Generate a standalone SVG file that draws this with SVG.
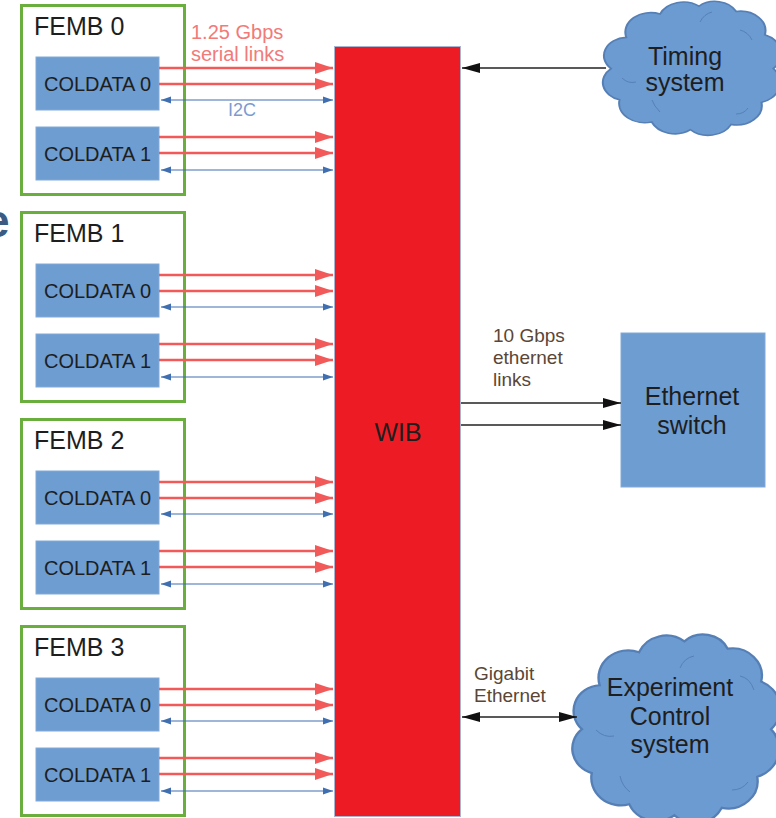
<svg xmlns="http://www.w3.org/2000/svg" width="776" height="818" viewBox="0 0 776 818">
  <style>
    .lbl { font-family: "Liberation Sans", Arial, sans-serif; fill: #1e1e1e; }
    .femb-frame { fill: #fff; stroke: #6aaf3d; stroke-width: 3; }
    .femb-title { font-size: 25px; }
    .chip { fill: #6d9dd1; stroke: #82aad8; stroke-width: 1; }
    .chip-txt { font-size: 20px; text-anchor: middle; }
    .cloud { fill: #6b9bd1; stroke: #557fb5; stroke-width: 1.2; }
    .cloud-fold { fill: none; stroke: #5680b8; stroke-width: 1; }
    .big { font-size: 25px; text-anchor: middle; }
    .serial { stroke: #f25a5a; stroke-width: 2.4; fill: none; marker-end: url(#redHead); }
    .i2c { stroke: #3f6fb0; stroke-width: 1.2; fill: none; marker-start: url(#blueHead); marker-end: url(#blueHead); }
    .eth { stroke: #222; stroke-width: 1.4; fill: none; }
  </style>
  <defs>
    <marker id="redHead" markerUnits="userSpaceOnUse" markerWidth="18" markerHeight="12" refX="18" refY="6" orient="auto">
      <path d="M0,0 L18,6 L0,12 z" fill="#f25a5a"/>
    </marker>
    <marker id="blueHead" markerUnits="userSpaceOnUse" markerWidth="10" markerHeight="8" refX="10" refY="4" orient="auto-start-reverse">
      <path d="M0,0.5 L10,4 L0,7.5 z" fill="#3f6fb0"/>
    </marker>
    <marker id="blackHead" markerUnits="userSpaceOnUse" markerWidth="18" markerHeight="12" refX="18" refY="6" orient="auto-start-reverse">
      <path d="M0,1 L18,6 L0,11 z" fill="#111"/>
    </marker>
    <!-- cloud outline in a 100x100 box -->
    <path id="cloudShape" d="M3,52 A14,14 0 0 1 12,28 A15,15 0 0 1 32,10 A15,15 0 0 1 55,4 A14,14 0 0 1 77,8 A15,15 0 0 1 94,26 A16,16 0 0 1 99,52 A16,16 0 0 1 92,78 A15,15 0 0 1 74,95 A15,15 0 0 1 50,99 A15,15 0 0 1 27,93 A15,15 0 0 1 8,76 A14,14 0 0 1 3,52 z"/>
  </defs>

  <rect width="776" height="818" fill="#fff"/>

  <!-- cropped heading glyph at the left edge -->
  <text x="-16" y="237" style="font-family: 'Liberation Sans', Arial, sans-serif; font-size: 46px; font-weight: bold; fill: #3b5b82;">e</text>

  <!-- WIB -->
  <g id="wib">
    <rect x="334.5" y="46.5" width="126" height="770" fill="#ed1c24" stroke="#a8b4d0" stroke-width="1"/>
    <text class="lbl big" x="398" y="441">WIB</text>
  </g>

  <!-- FEMB 0 -->
  <g id="femb0" transform="translate(0,4)">
    <rect class="femb-frame" x="21.5" y="1.5" width="163" height="189"/>
    <text class="lbl femb-title" x="34" y="31">FEMB 0</text>
    <g id="femb0-coldata0">
      <rect class="chip" x="36" y="53" width="123" height="53"/>
      <text class="lbl chip-txt" x="97.5" y="87">COLDATA 0</text>
    </g>
    <g id="femb0-coldata1">
      <rect class="chip" x="36" y="123" width="123" height="53"/>
      <text class="lbl chip-txt" x="97.5" y="157">COLDATA 1</text>
    </g>
  </g>

  <!-- FEMB 1 -->
  <g id="femb1" transform="translate(0,211)">
    <rect class="femb-frame" x="21.5" y="1.5" width="163" height="189"/>
    <text class="lbl femb-title" x="34" y="31">FEMB 1</text>
    <g id="femb1-coldata0">
      <rect class="chip" x="36" y="53" width="123" height="53"/>
      <text class="lbl chip-txt" x="97.5" y="87">COLDATA 0</text>
    </g>
    <g id="femb1-coldata1">
      <rect class="chip" x="36" y="123" width="123" height="53"/>
      <text class="lbl chip-txt" x="97.5" y="157">COLDATA 1</text>
    </g>
  </g>

  <!-- FEMB 2 -->
  <g id="femb2" transform="translate(0,418)">
    <rect class="femb-frame" x="21.5" y="1.5" width="163" height="189"/>
    <text class="lbl femb-title" x="34" y="31">FEMB 2</text>
    <g id="femb2-coldata0">
      <rect class="chip" x="36" y="53" width="123" height="53"/>
      <text class="lbl chip-txt" x="97.5" y="87">COLDATA 0</text>
    </g>
    <g id="femb2-coldata1">
      <rect class="chip" x="36" y="123" width="123" height="53"/>
      <text class="lbl chip-txt" x="97.5" y="157">COLDATA 1</text>
    </g>
  </g>

  <!-- FEMB 3 -->
  <g id="femb3" transform="translate(0,625)">
    <rect class="femb-frame" x="21.5" y="1.5" width="163" height="189"/>
    <text class="lbl femb-title" x="34" y="31">FEMB 3</text>
    <g id="femb3-coldata0">
      <rect class="chip" x="36" y="53" width="123" height="53"/>
      <text class="lbl chip-txt" x="97.5" y="87">COLDATA 0</text>
    </g>
    <g id="femb3-coldata1">
      <rect class="chip" x="36" y="123" width="123" height="53"/>
      <text class="lbl chip-txt" x="97.5" y="157">COLDATA 1</text>
    </g>
  </g>

  <!-- Timing system -->
  <g id="timing">
    <use href="#cloudShape" class="cloud" transform="translate(606,1) scale(1.69,1.3)" vector-effect="non-scaling-stroke"/>
    <path class="cloud-fold" d="M622,78 Q628,84 636,82 M700,22 Q704,14 712,12 M740,30 Q748,32 752,40 M748,108 Q744,114 736,114 M660,112 Q654,106 652,100"/>
    <text class="lbl big" x="685" y="65">Timing</text>
    <text class="lbl big" x="685" y="91">system</text>
  </g>

  <!-- Ethernet switch -->
  <g id="ethernet-switch">
    <rect x="621" y="333" width="144" height="154" fill="#6d9dd1" stroke="#82aad8" stroke-width="1"/>
    <text class="lbl big" x="692" y="405">Ethernet</text>
    <text class="lbl big" x="692" y="434">switch</text>
  </g>

  <!-- Experiment Control system -->
  <g id="run-control">
    <use href="#cloudShape" class="cloud" transform="translate(576,634) scale(1.97,1.83)" vector-effect="non-scaling-stroke"/>
    <path class="cloud-fold" d="M596,730 Q604,738 614,736 M680,668 Q684,658 694,656 M740,676 Q750,678 754,690 M748,782 Q742,790 732,790 M630,792 Q622,786 620,776"/>
    <text class="lbl big" x="670" y="696">Experiment</text>
    <text class="lbl big" x="670" y="725">Control</text>
    <text class="lbl big" x="670" y="753">system</text>
  </g>

  <!-- connectors -->
  <g id="connectors">
    <!-- FEMB 0 -->
    <line class="serial" x1="159" y1="68" x2="333" y2="68"/>
    <line class="serial" x1="159" y1="84" x2="333" y2="84"/>
    <line class="i2c" x1="161" y1="100" x2="333" y2="100"/>
    <line class="serial" x1="159" y1="137" x2="333" y2="137"/>
    <line class="serial" x1="159" y1="153" x2="333" y2="153"/>
    <line class="i2c" x1="161" y1="170" x2="333" y2="170"/>
    <!-- FEMB 1 -->
    <line class="serial" x1="159" y1="275" x2="333" y2="275"/>
    <line class="serial" x1="159" y1="291" x2="333" y2="291"/>
    <line class="i2c" x1="161" y1="307" x2="333" y2="307"/>
    <line class="serial" x1="159" y1="344" x2="333" y2="344"/>
    <line class="serial" x1="159" y1="360" x2="333" y2="360"/>
    <line class="i2c" x1="161" y1="377" x2="333" y2="377"/>
    <!-- FEMB 2 -->
    <line class="serial" x1="159" y1="482" x2="333" y2="482"/>
    <line class="serial" x1="159" y1="498" x2="333" y2="498"/>
    <line class="i2c" x1="161" y1="514" x2="333" y2="514"/>
    <line class="serial" x1="159" y1="551" x2="333" y2="551"/>
    <line class="serial" x1="159" y1="567" x2="333" y2="567"/>
    <line class="i2c" x1="161" y1="584" x2="333" y2="584"/>
    <!-- FEMB 3 -->
    <line class="serial" x1="159" y1="689" x2="333" y2="689"/>
    <line class="serial" x1="159" y1="705" x2="333" y2="705"/>
    <line class="i2c" x1="161" y1="721" x2="333" y2="721"/>
    <line class="serial" x1="159" y1="758" x2="333" y2="758"/>
    <line class="serial" x1="159" y1="774" x2="333" y2="774"/>
    <line class="i2c" x1="161" y1="791" x2="333" y2="791"/>

    <!-- timing, ethernet and control links -->
    <line class="eth" x1="606" y1="68" x2="462" y2="68" marker-end="url(#blackHead)"/>
    <line class="eth" x1="461" y1="403" x2="621" y2="403" marker-end="url(#blackHead)"/>
    <line class="eth" x1="461" y1="425" x2="621" y2="425" marker-end="url(#blackHead)"/>
    <line class="eth" x1="462" y1="717" x2="577" y2="717" marker-start="url(#blackHead)" marker-end="url(#blackHead)"/>

    <!-- link labels -->
    <text x="191" y="39" style="font-family: 'Liberation Sans', Arial, sans-serif; font-size: 20px; fill: #f27a78;">1.25 Gbps</text>
    <text x="191" y="61" style="font-family: 'Liberation Sans', Arial, sans-serif; font-size: 20px; fill: #f27a78;">serial links</text>
    <text x="228" y="116" style="font-family: 'Liberation Sans', Arial, sans-serif; font-size: 18px; fill: #7c9bd0;">I2C</text>
    <g style="font-family: 'Liberation Sans', Arial, sans-serif; font-size: 19px; fill: #5b4636;">
      <text x="493" y="342">10 Gbps</text>
      <text x="493" y="364">ethernet</text>
      <text x="493" y="386">links</text>
      <text x="474" y="680">Gigabit</text>
      <text x="474" y="702">Ethernet</text>
    </g>
  </g>
</svg>
